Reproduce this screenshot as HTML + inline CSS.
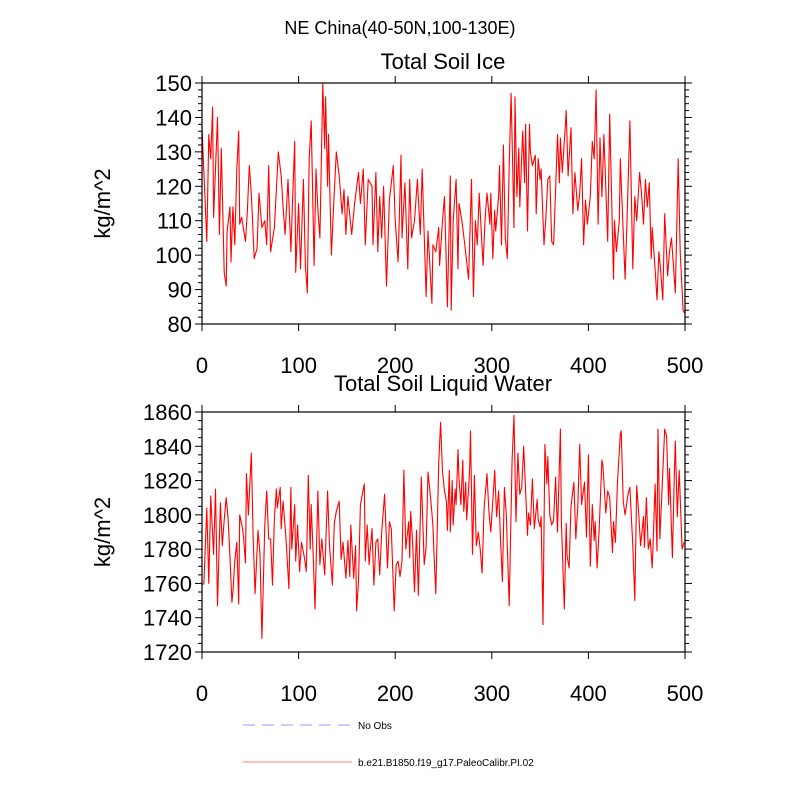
<!DOCTYPE html>
<html><head><meta charset="utf-8"><style>
body{margin:0;background:#fff}
svg text{font-family:"Liberation Sans",sans-serif}
</style></head><body>
<svg id="chart" width="800" height="800" xmlns="http://www.w3.org/2000/svg">
<text x="400" y="34" font-size="18" text-anchor="middle">NE China(40-50N,100-130E)</text>
<g id="g1"></g>
<g id="g2"></g>
<g>
<line x1="243" y1="725" x2="352" y2="725" stroke="#9999ff" stroke-width="1" stroke-dasharray="12,7"/>
<text x="358" y="729" font-size="10">No Obs</text>
<line x1="243" y1="762" x2="352" y2="762" stroke="#ff8080" stroke-width="1"/>
<text x="358" y="766" font-size="10">b.e21.B1850.f19_g17.PaleoCalibr.PI.02</text>
</g>
</svg>
<script>
const iceYears=[0,5,7,9,11,12,16,18,20,23,25,26,29,30,32,34,36,38,39,41,45,47,49,51,54,57,59,62,65,67,69,71,75,79,82,84,86,89,92,94,96,97,100,102,105,107,109,111,113,116,118,120,122,125,127,128,130,131,134,136,139,142,145,147,149,151,155,158,162,164,167,169,172,176,177,180,182,184,186,188,191,194,198,200,203,206,207,210,213,215,217,220,223,226,228,232,234,238,239,242,245,246,249,251,254,257,258,260,263,265,266,269,272,276,279,281,283,285,287,291,293,295,298,299,301,303,304,307,308,310,312,314,316,318,320,323,324,326,328,329,332,334,335,337,339,340,342,345,346,348,350,351,354,356,358,360,362,364,366,368,370,371,373,376,377,379,382,384,386,389,391,393,395,397,399,402,404,406,408,410,412,414,416,420,422,426,427,429,432,433,438,440,443,446,448,450,453,455,457,459,461,463,465,466,469,471,473,475,477,479,482,484,486,490,491,493,495,498,500];
const iceValues=[137,104,135,128,143,111,140,106,131,95,91,107,114,98,114,103,125,136,109,111,104,113,126,118,99,102,118,108,110,103,126,101,108,130,123,114,106,122,101,118,133,95,115,96,122,97,89,128,139,97,125,113,105,150,131,146,120,135,100,113,130,123,112,119,106,117,106,115,124,115,125,103,122,120,103,124,101,117,105,120,91,116,126,110,98,129,105,121,96,122,105,110,122,106,125,88,107,86,103,101,108,97,110,117,85,123,84,110,122,96,115,110,103,93,122,88,110,103,118,97,110,118,109,118,99,113,107,117,126,103,132,105,99,126,147,108,146,117,131,114,136,121,138,107,138,130,126,129,112,128,122,125,103,111,122,123,104,103,119,135,121,134,124,137,142,123,137,112,124,113,118,128,103,116,109,117,133,128,148,109,134,117,135,104,141,93,110,101,110,128,93,110,139,96,117,110,124,118,109,122,114,121,99,108,96,87,101,95,87,112,94,101,105,89,102,128,101,84,83];
const liqYears=[0,2,5,7,9,12,14,16,19,21,23,25,27,29,31,32,34,36,38,39,42,43,45,46,48,51,53,55,58,60,62,65,67,69,71,73,75,77,78,81,82,84,87,90,92,93,96,97,99,101,103,106,108,110,112,113,115,117,120,122,124,127,130,132,135,137,139,142,144,146,149,151,153,154,157,159,160,162,164,168,169,171,173,176,178,180,182,184,186,189,192,194,196,199,201,203,205,207,209,211,214,215,216,218,220,222,224,227,230,232,234,237,239,240,242,245,247,249,251,253,254,256,257,259,260,262,263,265,266,268,270,271,273,274,277,278,280,282,284,286,288,290,292,295,297,299,301,303,305,307,309,311,313,315,318,321,323,325,327,329,331,333,337,338,340,342,344,347,348,350,351,353,355,357,358,360,362,364,366,368,371,372,375,377,378,380,382,385,387,389,391,393,396,398,400,402,404,406,407,409,411,414,415,418,420,422,425,426,428,430,433,434,436,438,441,443,446,448,450,452,454,457,458,460,462,464,466,467,469,471,472,474,477,479,481,483,484,487,489,490,492,494,497,499];
const liqValues=[1759,1760,1804,1760,1811,1777,1815,1747,1807,1782,1797,1810,1798,1775,1749,1755,1773,1784,1748,1800,1792,1787,1772,1824,1800,1836,1786,1754,1791,1777,1728,1794,1814,1786,1786,1759,1798,1815,1804,1816,1792,1808,1786,1757,1816,1780,1806,1773,1794,1767,1784,1775,1767,1823,1780,1806,1778,1745,1814,1771,1786,1765,1814,1782,1759,1795,1802,1808,1774,1784,1763,1785,1764,1794,1763,1782,1744,1761,1806,1818,1773,1794,1771,1792,1759,1784,1786,1765,1790,1812,1769,1796,1792,1744,1771,1773,1764,1773,1826,1780,1796,1775,1802,1784,1755,1791,1753,1822,1771,1781,1825,1808,1794,1780,1754,1830,1854,1825,1814,1808,1791,1826,1790,1820,1794,1815,1806,1838,1821,1806,1832,1802,1819,1797,1826,1849,1777,1823,1782,1790,1780,1766,1804,1824,1802,1790,1808,1826,1799,1814,1786,1761,1816,1800,1747,1832,1858,1796,1836,1812,1816,1840,1788,1801,1794,1821,1792,1809,1797,1793,1799,1736,1841,1818,1834,1800,1794,1797,1822,1790,1850,1796,1745,1795,1776,1769,1805,1819,1786,1805,1841,1806,1819,1787,1835,1770,1806,1785,1796,1769,1789,1832,1829,1801,1814,1810,1778,1796,1784,1818,1847,1849,1808,1800,1812,1816,1782,1750,1817,1802,1782,1799,1781,1810,1780,1786,1769,1783,1818,1779,1850,1786,1825,1850,1846,1806,1827,1775,1825,1843,1799,1826,1780,1784];
const xTicks=[0,100,200,300,400,500];
const iceTicks=[80,90,100,110,120,130,140,150];
const liqTicks=[1720,1740,1760,1780,1800,1820,1840,1860];
const NS='http://www.w3.org/2000/svg';
function mk(p,tag,at){const e=document.createElementNS(NS,tag);for(const k in at)e.setAttribute(k,at[k]);p.appendChild(e);return e;}
function panel(g,top,bot,ymin,ymax,yt,minorStep,years,vals,title,key,titleOff){
  const L=202,R=685;
  const xs=v=>L+(v-0)/500*(R-L);
  const ys=v=>bot-(v-ymin)/(ymax-ymin)*(bot-top);
  const t=mk(g,'text',{x:443,y:top-titleOff,'font-size':22,'text-anchor':'middle'});t.textContent=title;
  
  
  const yl=mk(g,'text',{x:0,y:0,'font-size':22,'text-anchor':'middle',transform:`translate(110,${(top+bot)/2}) rotate(-90)`});yl.textContent='kg/m^2';
  
  
  for(let v=ymin;v<=ymax+1e-9;v+=minorStep){
    const y=ys(v);const major=yt.includes(Math.round(v));const len=major?7:4;
    mk(g,'line',{x1:L-len,y1:y,x2:L,y2:y,stroke:'#000','stroke-width':1});
    mk(g,'line',{x1:R,y1:y,x2:R+len,y2:y,stroke:'#000','stroke-width':1});
  }
  yt.forEach(v=>{const e=mk(g,'text',{x:L-10,y:ys(v)+8,'font-size':22,'text-anchor':'end'});e.textContent=v;
    
    });
  xTicks.forEach(v=>{const x=xs(v);
    mk(g,'line',{x1:x,y1:bot,x2:x,y2:bot+7,stroke:'#000'});
    mk(g,'line',{x1:x,y1:top-7,x2:x,y2:top,stroke:'#000'});
    const e=mk(g,'text',{x:x,y:bot+49,'font-size':22,'text-anchor':'middle'});e.textContent=v;
    
    });
  const pts=years.map((yr,i)=>xs(yr).toFixed(1)+','+ys(vals[i]).toFixed(1)).join(' ');
  const pl=mk(g,'polyline',{points:pts,fill:'none',stroke:'#ff0000','stroke-width':1.1,'stroke-linejoin':'round'});
  
  
  const fr=mk(g,'rect',{x:L,y:top,width:R-L,height:bot-top,fill:'none',stroke:'#000','stroke-width':1.2});
  
  
}
panel(document.getElementById('g1'),83,324,80,150,iceTicks,2,iceYears,iceValues,'Total Soil Ice','ice',14);
panel(document.getElementById('g2'),412,652,1720,1860,liqTicks,5,liqYears,liqValues,'Total Soil Liquid Water','liquid',21);
</script>
</body></html>
